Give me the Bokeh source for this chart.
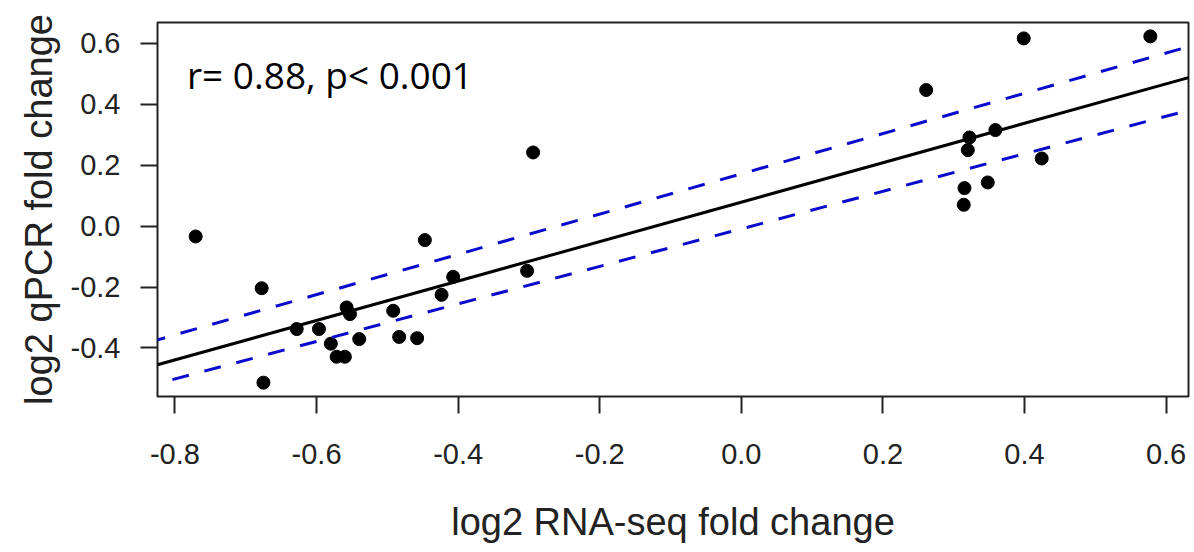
import numpy as np
from bokeh.plotting import figure
from bokeh.models import Slope, Label, FixedTicker, PrintfTickFormatter
from bokeh.embed import file_html
from bokeh.resources import INLINE

# log2 fold changes per gene: RNA-seq (x) against qPCR (y)
rnaseq_fc = [-0.7707, -0.6775, -0.6750, -0.6280, -0.5966, -0.5798, -0.5716, -0.5600,
             -0.5575, -0.5528, -0.5397, -0.4917, -0.4833, -0.4579, -0.4470, -0.4234,
             -0.4070, -0.3026, -0.2941, 0.2611, 0.3989, 0.5777, 0.3222, 0.3199,
             0.3589, 0.4243, 0.3481, 0.3152, 0.3142]
qpcr_fc = [-0.034, -0.204, -0.514, -0.338, -0.338, -0.386, -0.429, -0.429,
           -0.267, -0.289, -0.371, -0.278, -0.364, -0.368, -0.046, -0.2257,
           -0.1666, -0.1468, 0.2418, 0.4468, 0.6163, 0.623, 0.291, 0.2497,
           0.3154, 0.222, 0.1433, 0.1248, 0.070]

# dashed band lines: (intercept, slope)
band_upper = (0.1716, 0.661)
band_lower = (-0.009, 0.616)

x_ticks = [-0.8, -0.6, -0.4, -0.2, 0.0, 0.2, 0.4, 0.6]
y_ticks = [-0.4, -0.2, 0.0, 0.2, 0.4, 0.6]
stat_text = "r= 0.88, p< 0.001"

x = np.array(rnaseq_fc)
y = np.array(qpcr_fc)
slope, intercept = np.polyfit(x, y, 1)

# axis limits padded by 4% of the data span on each side
xpad = 0.04 * (x.max() - x.min())
ypad = 0.04 * (y.max() - y.min())

p = figure(width=1194, height=552,
           x_range=(x.min() - xpad, x.max() + xpad),
           y_range=(y.min() - ypad, y.max() + ypad),
           output_backend="svg", toolbar_location=None,
           min_border_left=157, min_border_right=6,
           min_border_top=22, min_border_bottom=156)

p.background_fill_color = "white"
p.border_fill_color = "white"
p.outline_line_color = "#222222"
p.outline_line_width = 2
p.xgrid.visible = False
p.ygrid.visible = False

font = "Liberation Sans"
ink = "#222222"
for ax in (p.xaxis[0], p.yaxis[0]):
    ax.axis_line_color = None
    ax.major_tick_line_color = ink
    ax.major_tick_line_width = 2
    ax.major_tick_in = 0
    ax.major_tick_out = 17
    ax.minor_tick_line_color = None
    ax.major_label_text_font = font
    ax.major_label_text_font_size = "29px"
    ax.major_label_text_color = ink
    ax.axis_label_text_font = font
    ax.axis_label_text_font_size = "38px"
    ax.axis_label_text_font_style = "normal"
    ax.axis_label_text_color = ink
    ax.formatter = PrintfTickFormatter(format="%.1f")

p.xaxis.ticker = FixedTicker(ticks=x_ticks)
p.yaxis.ticker = FixedTicker(ticks=y_ticks)
p.xaxis.axis_label = "log2 RNA-seq fold change"
p.yaxis.axis_label = "log2 qPCR fold change"
p.xaxis.major_label_standoff = 30
p.xaxis.axis_label_standoff = 34
p.yaxis.major_label_standoff = 20
p.yaxis.axis_label_standoff = 8

# fitted line and dashed band
p.add_layout(Slope(gradient=slope, y_intercept=intercept,
                   line_color="black", line_width=3))
for b0, b1 in (band_upper, band_lower):
    p.add_layout(Slope(gradient=b1, y_intercept=b0, line_color="#0a0acc",
                       line_width=3, line_dash="17 16"))

p.scatter(x, y, size=13, color="black", marker="circle")

p.add_layout(Label(x=-0.783, y=0.497, text=stat_text,
                   text_font="Open Sans", text_font_size="37px",
                   text_color="black", text_baseline="alphabetic"))

open("out.html", "w").write(file_html(p, INLINE))
